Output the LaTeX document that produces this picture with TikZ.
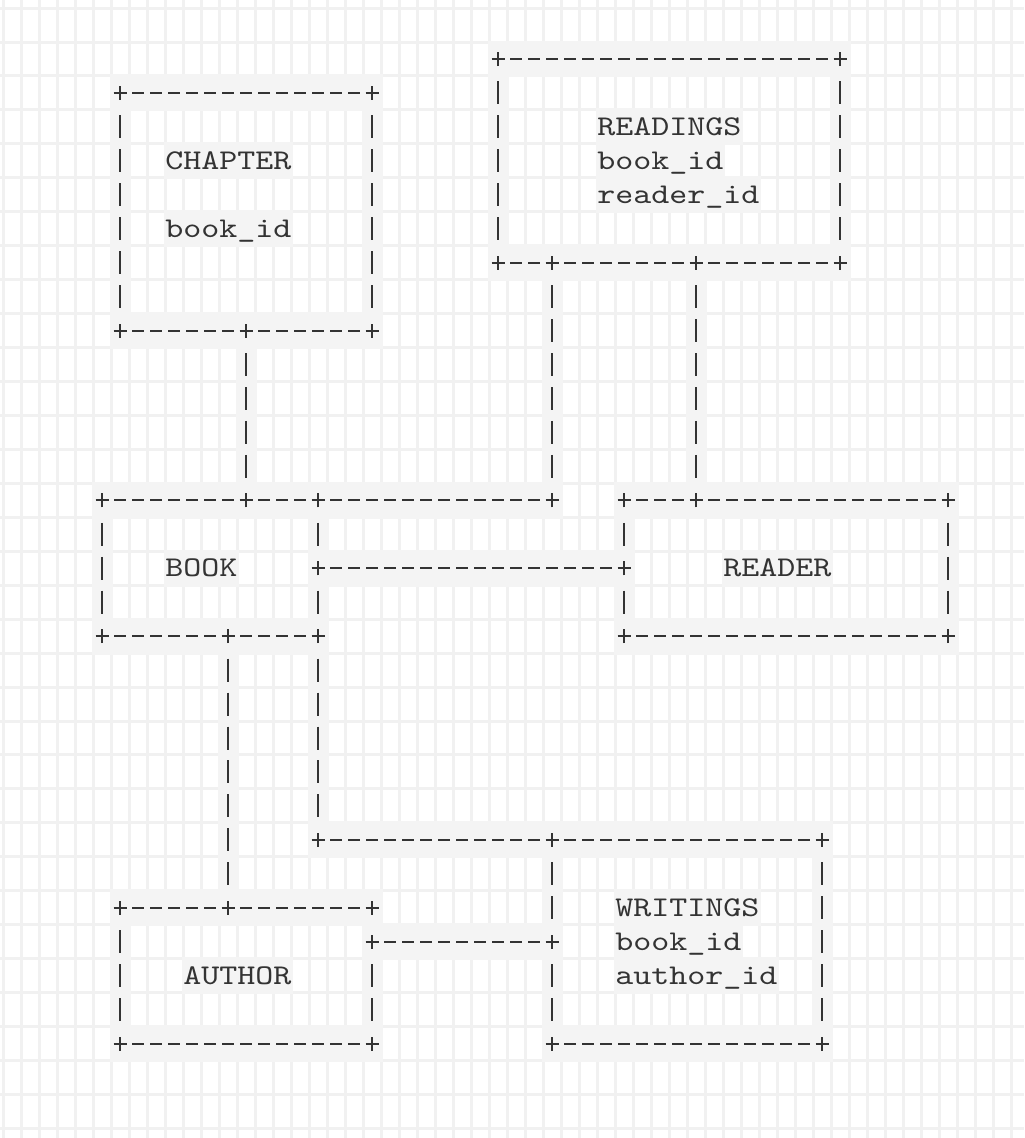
\documentclass[tikz,border=0pt]{standalone}
\usepackage{fontspec}
\newfontfamily\asciifont{lmmono10-regular.otf}[FakeStretch=1.2]
\usetikzlibrary{positioning}

\definecolor{gridgray}{RGB}{241,241,241}
\definecolor{cellgray}{RGB}{244,244,244}
\definecolor{ink}{RGB}{51,51,51}

\tikzset{
  entity/.style 2 args={rectangle, inner sep=0pt, outer sep=0pt,
    minimum width=#1*13.5pt, minimum height=#2*25.4625pt},
  ascii/.style={draw=ink, line width=1.5pt},
  asciiH/.style={ascii, dash pattern=on 9pt off 4.5pt, dash phase=4.5pt},
  asciiV/.style={ascii, dash pattern=on 17.25pt off 8.2125pt, dash phase=21.356pt,
    shorten <=12.731pt, shorten >=12.731pt},
  word/.style={anchor=base west, xshift=-1.125pt, inner xsep=1.125pt, inner ysep=0pt,
    text height=20.22pt, text depth=7.49pt, fill=cellgray, text=ink,
    font=\asciifont\fontsize{21.43pt}{25pt}\selectfont},
  pics/junction/.style={code={\draw[ascii] (-4.875pt,0pt) -- (4.875pt,0pt) (0pt,-5.25pt) -- (0pt,5.25pt);}},
}

\begin{document}
\begin{tikzpicture}[x=13.5pt, y=-25.4625pt]
\useasboundingbox (-5.667,-1.738) rectangle (51.222,31.782);
\fill[white] (-5.667,-1.738) rectangle (51.222,31.782);

% grid
\foreach \c in {-6,...,51}
    \draw[gridgray, line width=2.25pt] (\c+0.5,-1.738) -- (\c+0.5,31.782);
\foreach \k in {-2,...,31}
    \draw[gridgray, line width=2.25pt] (-5.667,\k+0.5) -- (51.222,\k+0.5);

% used cells
\foreach \ca/\ka/\cb/\kb in {1/1/1/8, 15/1/15/8, 22/0/22/6, 41/0/41/6,
    8/8/8/13, 25/6/25/13, 33/6/33/13,
    0/13/0/17, 12/13/12/17, 29/13/29/17, 47/13/47/17,
    7/17/7/25, 12/17/12/23,
    1/25/1/29, 15/25/15/29, 25/23/25/29, 40/23/40/29,
    22/0/41/0, 22/6/41/6, 1/1/15/1, 1/8/15/8,
    0/13/25/13, 29/13/47/13, 12/15/29/15, 0/17/12/17, 29/17/47/17,
    12/23/40/23, 25/29/40/29, 1/25/15/25, 1/29/15/29, 15/26/25/26}
    \fill[cellgray] (\ca-0.583,\ka-0.544) rectangle (\cb+0.583,\kb+0.544);

% tables
\node[entity={14}{7}] (chapter) at (8,4.5) {};
\node[entity={19}{6}] (readings) at (31.5,3) {};
\node[entity={12}{4}] (book) at (6,15) {};
\node[entity={18}{4}] (reader) at (38,15) {};
\node[entity={14}{4}] (author) at (8,27) {};
\node[entity={15}{6}] (writings) at (32.5,26) {};

\node[word] (chapter-name) at (3.5,3.25) {CHAPTER};
\node[word] (chapter-key) at (3.5,5.25) {book\_id};
\node[word] (readings-name) at (27.5,2.25) {READINGS};
\node[word] (readings-book) at (27.5,3.25) {book\_id};
\node[word] (readings-reader) at (27.5,4.25) {reader\_id};
\node[word] (book-name) at (3.5,15.25) {BOOK};
\node[word] (reader-name) at (34.5,15.25) {READER};
\node[word] (author-name) at (4.5,27.25) {AUTHOR};
\node[word] (writings-name) at (28.5,25.25) {WRITINGS};
\node[word] (writings-book) at (28.5,26.25) {book\_id};
\node[word] (writings-author) at (28.5,27.25) {author\_id};

\foreach \b in {chapter,readings,book,reader,author,writings}
{
    \draw[asciiH] (\b.north west) -- (\b.north east);
    \draw[asciiH] (\b.south west) -- (\b.south east);
}
\foreach \b in {chapter,readings}
{
    \draw[asciiV] (\b.north west) -- (\b.south west);
    \draw[asciiV] (\b.north east) -- (\b.south east);
}
\draw[asciiV] (book.north west) -- (book.south west);
\draw[asciiV] (book.north east) -- (book.east);
\draw[asciiV] (book.east) -- (book.south east);
\draw[asciiV] (reader.north east) -- (reader.south east);
\draw[asciiV] (reader.north west) -- (reader.west);
\draw[asciiV] (reader.west) -- (reader.south west);

% links
\coordinate (rb) at ([xshift=40.5pt]readings.south west);
\coordinate (rr) at ([xshift=54pt]reader.north west);
\coordinate (ba) at ([xshift=94.5pt]book.south west);
\coordinate (ae) at ([yshift=-25.4625pt]author.north east);
\coordinate (aw) at (ae -| writings.west);
\coordinate (bw) at (book.south east |- writings.north);

\draw[asciiV] (author.north west) -- (author.south west);
\draw[asciiV] (ae) -- (author.south east);
\draw[asciiV] (writings.north east) -- (writings.south east);
\draw[asciiV] (writings.north west) -- (aw);
\draw[asciiV] (aw) -- (writings.south west);

\draw[asciiV] (chapter.south) -- (chapter.south |- book.north);
\draw[asciiV] (rb) -- (rb |- book.north);
\draw[asciiH] (book.north east) -- (rb |- book.north);
\draw[asciiV] (rr |- readings.south) -- (rr);
\draw[asciiH] (book.east) -- (reader.west);
\draw[asciiV] (ba) -- (ba |- author.north);
\draw[asciiV] (book.south east) -- (bw);
\draw[asciiH] (bw) -- (writings.north west);
\draw[asciiH] (ae) -- (aw);

% plus signs
\foreach \b in {chapter,readings,book,reader,author,writings}
{
    \pic at (\b.north west) {junction};
    \pic at (\b.north east) {junction};
    \pic at (\b.south west) {junction};
    \pic at (\b.south east) {junction};
}
\foreach \p in {chapter.south, rb, rr, ba, ae, aw, bw, book.east, reader.west}
    \pic at (\p) {junction};
\pic at (chapter.south |- book.north) {junction};
\pic at (rb |- book.north) {junction};
\pic at (rr |- readings.south) {junction};
\pic at (ba |- author.north) {junction};

\end{tikzpicture}
\end{document}
